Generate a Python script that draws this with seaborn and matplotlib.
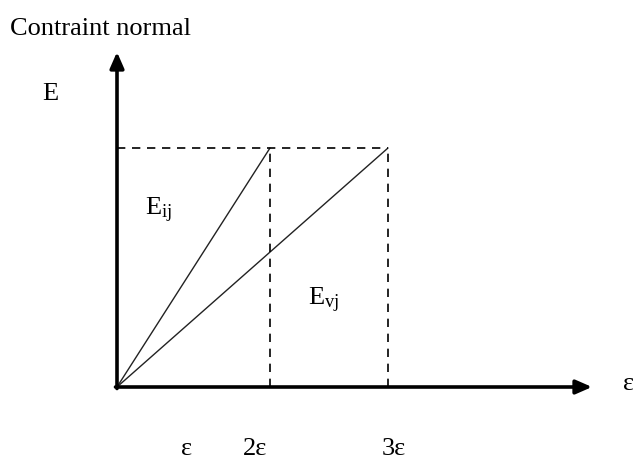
import numpy as np
import pandas as pd
import matplotlib
matplotlib.use("Agg")
import matplotlib.pyplot as plt
import seaborn as sns

sns.set_theme(style="white")
plt.rcParams['font.family'] = ['Liberation Serif', 'DejaVu Serif']
plt.rcParams['mathtext.fontset'] = 'custom'
plt.rcParams['mathtext.rm'] = 'Liberation Serif'
plt.rcParams['mathtext.it'] = 'Liberation Serif'
plt.rcParams['text.color'] = 'black'

# diagram values (arbitrary units, origin at 0,0)
peak_strain = [1.53, 2.71]        # strain at which each line reaches the peak stress
peak_stress = 2.39                 # common stress level E
line_names = ["E_ij", "E_vj"]
x_axis_end = 4.75
y_axis_end = 3.35
tick_labels = ["ε", "2ε", "3ε"]
tick_pos = [0.70, 1.38, 2.77]

# build the two straight lines from the origin
rows = []
for name, xs in zip(line_names, peak_strain):
    rows.append({"strain": 0.0, "stress": 0.0, "line": name})
    rows.append({"strain": xs, "stress": peak_stress, "line": name})
df = pd.DataFrame(rows)

fig = plt.figure(figsize=(6.33, 4.59), dpi=100)
ax = fig.add_axes([0, 0, 1, 1])

sns.lineplot(data=df, x="strain", y="stress", units="line", estimator=None,
             color="#222222", lw=1.0, ax=ax, legend=False)

# dashed guides
ax.plot([0, max(peak_strain)], [peak_stress, peak_stress], color="black",
        lw=1.2, ls=(0, (5, 4)))
for xs in peak_strain:
    ax.plot([xs, xs], [0, peak_stress], color="black", lw=1.2, ls=(0, (5, 4)))

# axes with arrows
arrow = dict(arrowstyle="-|>,head_length=0.8,head_width=0.35", color="black",
             lw=2.6, shrinkA=0, shrinkB=0)
ax.annotate("", xy=(x_axis_end, 0), xytext=(-0.015, 0), arrowprops=arrow)
ax.annotate("", xy=(0, y_axis_end), xytext=(0, -0.015), arrowprops=arrow)

# texts
ax.text(-1.07, 3.52, "Contraint normal", fontsize=19, va="baseline", ha="left")
ax.text(-0.75, 2.87, "E", fontsize=19, va="baseline", ha="left")
ax.text(0.28, 1.72, r"E$_{\mathrm{ij}}$", fontsize=19, va="baseline", ha="left")
ax.text(1.91, 0.82, r"E$_{\mathrm{vj}}$", fontsize=19, va="baseline", ha="left")
ax.text(5.06, -0.03, "ε", fontsize=19, va="baseline", ha="left")
for lab, xp in zip(tick_labels, tick_pos):
    ax.text(xp, -0.68, lab, fontsize=19, va="baseline", ha="center")

ax.set_xlim(-1.17, 5.16)
ax.set_ylim(-0.72, 3.87)
ax.axis("off")

fig.savefig("out.png", dpi=100)
